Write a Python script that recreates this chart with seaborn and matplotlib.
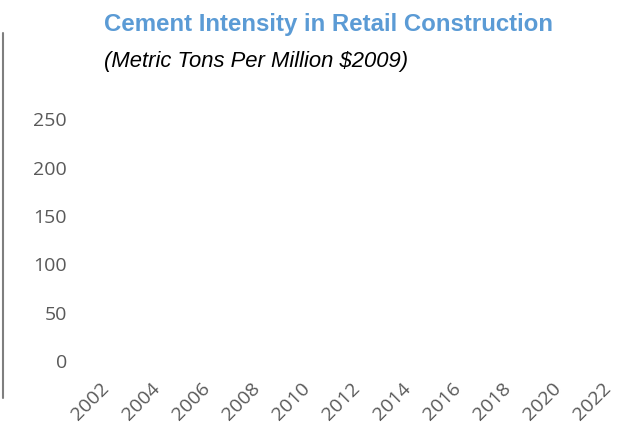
import matplotlib
matplotlib.use("Agg")
import matplotlib.pyplot as plt
import seaborn as sns
import pandas as pd
from matplotlib.lines import Line2D

# data (the reference shows no plotted series, only the empty axes)
years = [2002, 2004, 2006, 2008, 2010, 2012, 2014, 2016, 2018, 2020, 2022]
y_ticks = [0, 50, 100, 150, 200, 250]
intensity = [None] * len(years)

title = "Cement Intensity in Retail Construction"
subtitle = "(Metric Tons Per Million $2009)"

sns.set_style("white")
plt.rcParams["font.family"] = ["Open Sans", "DejaVu Sans"]

W, H = 621, 432
px_per_year = 25.1
px_per_unit = 0.966
left_px, right_px, top_px, bottom_px = 74, 620, 105, 361
first_tick_px = 113

fig = plt.figure(figsize=(W / 100, H / 100), dpi=100)
ax = fig.add_axes([left_px / W, (H - bottom_px) / H,
                   (right_px - left_px) / W, (bottom_px - top_px) / H])

df = pd.DataFrame({"year": years,
                   "value": pd.to_numeric(pd.Series(intensity), errors="coerce")})
sns.lineplot(data=df, x="year", y="value", ax=ax, color="#5B9BD5")

ax.set_xlim(2002 - (first_tick_px - left_px) / px_per_year,
            2002 + (right_px - first_tick_px) / px_per_year)
ax.set_ylim(0, (bottom_px - top_px) / px_per_unit)
ax.set_xticks(years)
ax.set_xticklabels([str(y) for y in years], rotation=45, ha="right", va="top")
ax.set_yticks(y_ticks)
ax.set_yticklabels([str(v) for v in y_ticks])
ax.tick_params(axis="x", length=0, pad=13, labelsize=14, colors="#595959")
ax.tick_params(axis="y", length=0, pad=5, labelsize=14, colors="#595959")
ax.set_xlabel("")
ax.set_ylabel("")
for s in ax.spines.values():
    s.set_visible(False)

fig.text(104 / W, 1 - 25 / H, title, color="#5B9BD5", fontsize=17.3, fontweight="bold",
         family=["Liberation Sans", "DejaVu Sans"], va="center", ha="left")
fig.text(104 / W, 1 - 62 / H, subtitle, color="black", fontsize=15.8, style="italic",
         family=["Liberation Sans", "DejaVu Sans"], va="center", ha="left")

fig.add_artist(Line2D([3 / W, 3 / W], [1 - 33 / H, 1 - 398 / H], color="#7f7f7f", lw=1.5))

fig.savefig("out.png", dpi=100)
